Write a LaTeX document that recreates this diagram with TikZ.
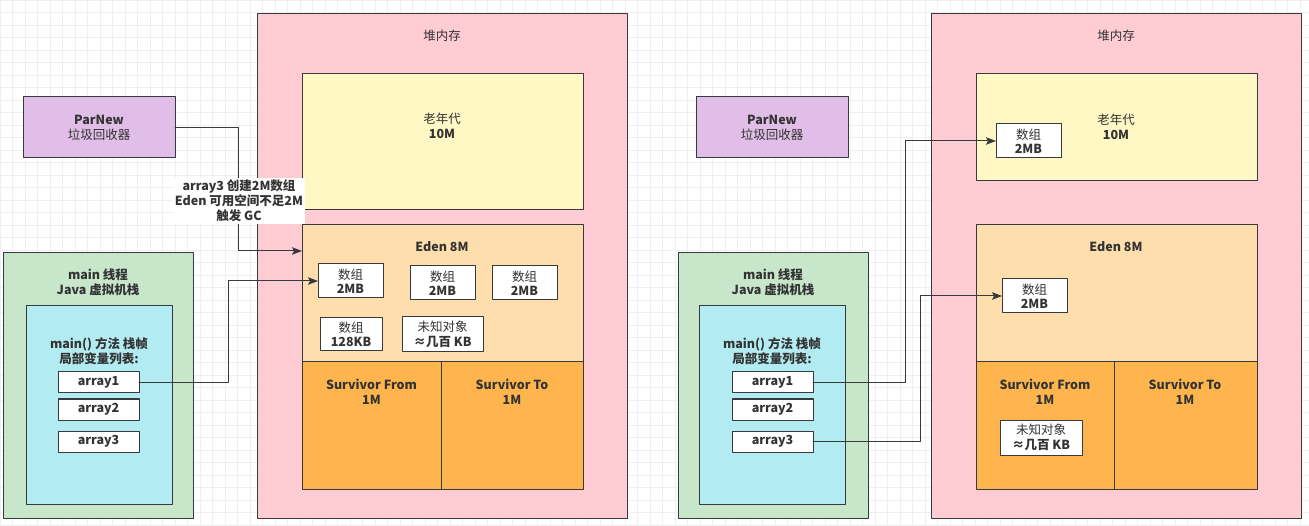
\documentclass[tikz,border=0pt]{standalone}
\usepackage{fontspec}
\setmainfont{Noto Sans CJK SC}
\usepackage{tikz}
\usetikzlibrary{arrows.meta,positioning}
\definecolor{edge}{HTML}{36393D}
\definecolor{ink}{HTML}{333333}
\definecolor{heappink}{HTML}{FFCCD3}
\definecolor{oldyellow}{HTML}{FFF8C5}
\definecolor{edenpeach}{HTML}{FFDEAE}
\definecolor{survorange}{HTML}{FFB54E}
\definecolor{stackgreen}{HTML}{C8E6C9}
\definecolor{framecyan}{HTML}{B2EBF2}
\definecolor{gcpurple}{HTML}{E1BEE7}
\definecolor{gridgray}{HTML}{EFEFEF}
\tikzset{
    every picture/.style={line cap=round,line join=round},
    area/.style={draw=edge,line width=1pt,anchor=north west,
      inner sep=0pt,outer sep=0pt},
    heapbox/.style={area,fill=heappink,minimum width=370pt,minimum height=504pt},
    oldbox/.style={area,fill=oldyellow,minimum width=281pt},
    edenbox/.style={area,fill=edenpeach,minimum width=281pt,minimum height=137pt},
    survbox/.style={area,fill=survorange,minimum height=127pt},
    gcbox/.style={area,fill=gcpurple,minimum width=152pt,minimum height=61pt,
      align=center,text=ink,font=\fontsize{12.5}{15}\selectfont\bfseries},
    stackbox/.style={area,fill=stackgreen,minimum width=190pt,minimum height=265pt},
    framebox/.style={area,fill=framecyan,minimum width=146pt,minimum height=198pt},
    varcell/.style={area,fill=white,minimum width=81pt,minimum height=21pt,
      text=ink,font=\fontsize{12.5}{15}\selectfont\bfseries},
    objcell/.style={area,fill=white,minimum width=65pt,minimum height=34pt,
      align=center,text=ink,font=\fontsize{12.5}{14.5}\selectfont\bfseries},
    caption/.style={align=center,inner sep=0pt,text=ink,
      font=\fontsize{12.5}{15}\selectfont\bfseries},
    gclabel/.style={caption,fill=white,inner xsep=2pt,inner ysep=2pt},
    flowarrow/.style={-{Stealth[length=10pt,width=7.5pt,inset=2pt]},draw=edge,
      line width=1pt}
}
\newcommand{\zh}[1]{{\mdseries #1}}

\begin{document}
\begin{tikzpicture}[x=1pt,y=-1pt]
  \useasboundingbox (0,0) rectangle (1309,526);
  \fill[white] (0,0) rectangle (1309,526);
  \draw[gridgray,line width=0.6pt,step=12.5pt] (0,0) grid (1309,526);

  % before GC
  \node[heapbox] (heap) at (257,14) {};
  \node[caption] (heaptxt) at (442,36) {\zh{堆内存}};
  \node[oldbox,minimum height=136pt] (old) at (302,74) {};
  \node[caption] (oldtxt) at (442,126) {\zh{老年代}\\10M};
  \node[edenbox] (eden) at (302,225) {};
  \node[caption] (edentxt) at (442,247) {Eden 8M};
  \node[survbox,minimum width=139pt] (from) at (302,362) {};
  \node[survbox,minimum width=142pt,right=0pt of from.north east,anchor=north west] (to) {};
  \node[caption] (fromtxt) at (371.5,391.5) {Survivor From\\1M};
  \node[caption] (totxt) at (512,391.5) {Survivor To\\1M};
  \node[objcell] (arrA) at (318,264) {\zh{数组}\\2MB};
  \node[objcell] (arrB) at (410,266) {\zh{数组}\\2MB};
  \node[objcell] (arrC) at (492,266) {\zh{数组}\\2MB};
  \node[objcell,minimum width=62pt,minimum height=33pt] (arrD) at (320,318) {\zh{数组}\\128KB};
  \node[objcell,minimum width=81pt,minimum height=35pt] (unknown) at (402,317) {\zh{未知对象}\\≈几百 KB};

  \node[gcbox] (parnew) at (23,97) {ParNew\\\zh{垃圾回收器}};
  \node[stackbox] (stack) at (3,253) {};
  \node[caption] (stacktxt) at (98,282.5) {main 线程\\Java 虚拟机栈};
  \node[framebox] (frame) at (26,306) {};
  \node[caption] (frametxt) at (99,351.5) {main() 方法 栈帧\\局部变量列表:};
  \node[varcell] (var1) at (58,372) {array1};
  \node[varcell,below=6pt of var1] (var2) {array2};
  \node[varcell,below=11pt of var2] (var3) {array3};

  \coordinate (gcin) at (302,251);
  \draw[flowarrow] (parnew.east) -- ++(63.5,0) |- (gcin);
  \node[gclabel] (gctxt) at (239,201) {array3 创建2M数组\\Eden 可用空间不足2M\\触发 GC};
  \draw[flowarrow] (var1.east) -- ++(89,0) |- (arrA.west);

  % after GC
  \begin{scope}[xshift=674pt]
    \node[heapbox] (heapR) at (257,14) {};
    \node[caption] (heaptxtR) at (442,36) {\zh{堆内存}};
    \node[oldbox,minimum height=107pt] (oldR) at (302,74) {};
    \node[caption] (oldtxtR) at (442,126.5) {\zh{老年代}\\10M};
    \node[edenbox] (edenR) at (302,225) {};
    \node[caption] (edentxtR) at (442,247) {Eden 8M};
    \node[survbox,minimum width=138pt] (fromR) at (302,362) {};
    \node[survbox,minimum width=143pt,right=0pt of fromR.north east,anchor=north west] (toR) {};
    \node[caption] (fromtxtR) at (371,391.5) {Survivor From\\1M};
    \node[caption] (totxtR) at (511,391.5) {Survivor To\\1M};
    \node[objcell] (oldArrR) at (322,124) {\zh{数组}\\2MB};
    \node[objcell] (arrAR) at (328,279) {\zh{数组}\\2MB};
    \node[objcell,minimum width=82pt,minimum height=35pt] (unknownR) at (326,420) {\zh{未知对象}\\≈几百 KB};

    \node[gcbox] (parnewR) at (22,97) {ParNew\\\zh{垃圾回收器}};
    \node[stackbox] (stackR) at (4,253) {};
    \node[caption] (stacktxtR) at (99,282.5) {main 线程\\Java 虚拟机栈};
    \node[framebox] (frameR) at (25,306) {};
    \node[caption] (frametxtR) at (98,351.5) {main() 方法 栈帧\\局部变量列表:};
    \node[varcell] (var1R) at (58,372) {array1};
    \node[varcell,below=6pt of var1R] (var2R) {array2};
    \node[varcell,below=11pt of var2R] (var3R) {array3};

    \draw[flowarrow] (var1R.east) -- ++(92,0) |- (oldArrR.west);
    \draw[flowarrow] (var3R.east) -- ++(107,0) |- (arrAR.west);
  \end{scope}
\end{tikzpicture}
\end{document}
